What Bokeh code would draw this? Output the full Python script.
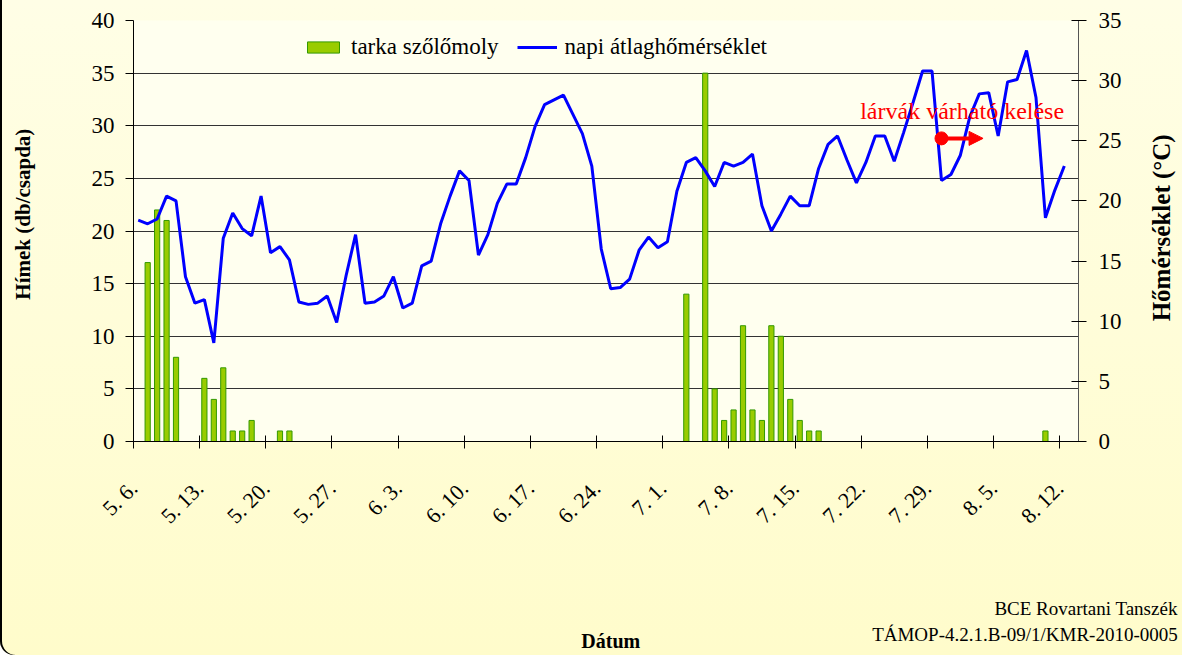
import math
from bokeh.plotting import figure
from bokeh.models import (Range1d, LinearAxis, FixedTicker, Legend, LegendItem,
                          Label, Arrow, NormalHead)
from bokeh.embed import file_html
from bokeh.resources import INLINE

FONT = "Liberation Serif"

# ---- data -----------------------------------------------------------
# day index 0 = 5. 6. (May 6) ... 98 = 8. 12.
tick_days = [0, 7, 14, 21, 28, 35, 42, 49, 56, 63, 70, 77, 84, 91, 98]
tick_labels = ["5. 6.", "5. 13.", "5. 20.", "5. 27.", "6. 3.", "6. 10.", "6. 17.",
               "6. 24.", "7. 1.", "7. 8.", "7. 15.", "7. 22.", "7. 29.", "8. 5.", "8. 12."]

# males caught per trap (tarka szőlőmoly)
trap_day = [1, 2, 3, 4, 7, 8, 9, 10, 11, 12, 15, 16,
            58, 60, 61, 62, 63, 64, 65, 66, 67, 68, 69, 70, 71, 72, 96]
trap_count = [17, 22, 21, 8, 6, 4, 7, 1, 1, 2, 1, 1,
              14, 35, 5, 2, 3, 11, 3, 2, 11, 10, 4, 2, 1, 1, 1]

# daily mean temperature (°C), one value per day from day 0
temperature = [18.4, 18.1, 18.5, 20.4, 20.0, 13.7, 11.5, 11.8, 8.2, 16.9,
               19.0, 17.7, 17.1, 20.4, 15.7, 16.2, 15.1, 11.6, 11.4, 11.5,
               12.1, 9.9, 13.8, 17.2, 11.5, 11.6, 12.1, 13.7, 11.1, 11.5,
               14.6, 15.0, 18.1, 20.4, 22.5, 21.7, 15.5, 17.2, 19.8, 21.4,
               21.4, 23.6, 26.2, 28.0, 28.4, 28.8, 27.2, 25.6, 22.9, 16.0,
               12.7, 12.8, 13.5, 15.9, 17.0, 16.1, 16.6, 20.8, 23.2, 23.6,
               22.5, 21.2, 23.2, 22.9, 23.2, 23.9, 19.6, 17.5, 18.9, 20.4,
               19.6, 19.6, 22.7, 24.7, 25.4, 23.4, 21.5, 23.2, 25.4, 25.4,
               23.3, 25.7, 28.2, 30.8, 30.8, 21.7, 22.2, 23.8, 27.0, 28.9,
               29.0, 25.4, 29.9, 30.1, 32.5, 28.6, 18.6, 20.9, 22.9]
temp_day = list(range(len(temperature)))

N_DAYS = 100
left_ticks = [0, 5, 10, 15, 20, 25, 30, 35, 40]
right_ticks = [0, 5, 10, 15, 20, 25, 30, 35]

# annotation: expected larval hatching
hatch_day = 85
hatch_level = 28.8
hatch_arrow_end = 89.4
hatch_text = "lárvák várható kelése"

# ---- figure -----------------------------------------------------------
p = figure(width=1182, height=655, output_backend="svg", toolbar_location=None,
           x_range=Range1d(-0.5, N_DAYS - 0.5), y_range=Range1d(0, 40),
           min_border_left=133, min_border_right=104, min_border_top=20,
           min_border_bottom=214)
p.extra_y_ranges = {"temp": Range1d(0, 35)}

p.background_fill_color = "#FFFFEF"
p.border_fill_color = None
p.outline_line_color = None
p.styles = {"background": "linear-gradient(to bottom, #FFFEE6, #FFFCCB)",
            "box-shadow": "inset 2px 0 0 #000000",
            "border-bottom-left-radius": "14px"}

# grid
p.xgrid.visible = False
p.ygrid.ticker = FixedTicker(ticks=left_ticks[1:])
p.ygrid.grid_line_color = "#333333"
p.ygrid.grid_line_width = 1

# left axis
ya = p.yaxis[0]
ya.ticker = FixedTicker(ticks=left_ticks)
ya.major_tick_in = 0
ya.major_tick_out = 8
ya.minor_tick_line_color = None
ya.major_label_standoff = 11
ya.major_label_text_font = FONT
ya.major_label_text_font_size = "23px"
ya.major_label_text_color = "#000000"
ya.axis_line_color = "#000000"
ya.major_tick_line_color = "#000000"

# right axis
ra = LinearAxis(y_range_name="temp", ticker=FixedTicker(ticks=right_ticks))
ra.major_tick_in = 7
ra.major_tick_out = 8
ra.minor_tick_line_color = None
ra.major_label_standoff = 12
ra.major_label_text_font = FONT
ra.major_label_text_font_size = "23px"
ra.major_label_text_color = "#000000"
ra.axis_line_color = "#555555"
ra.major_tick_line_color = "#000000"
p.add_layout(ra, "right")

# bottom axis: tick marks at week boundaries, labels placed there too
week_edges = [d - 0.5 for d in tick_days]
xa = p.xaxis[0]
xa.ticker = FixedTicker(ticks=week_edges)
xa.major_label_overrides = {e: lab for e, lab in zip(week_edges, tick_labels)}
xa.major_label_orientation = math.pi / 4
xa.major_tick_in = 6
xa.major_tick_out = 7
xa.major_tick_line_color = "#000000"
xa.minor_tick_line_color = None
xa.axis_line_color = "#000000"
xa.major_label_standoff = 36
xa.major_label_text_font = FONT
xa.major_label_text_font_size = "22px"
xa.major_label_text_color = "#000000"

# ---- data marks -----------------------------------------------------------
bars = p.vbar(x=trap_day, top=trap_count, width=0.55,
              fill_color="#99CC00", line_color="#339900", line_width=1)
temp_line = p.line(x=temp_day, y=temperature, y_range_name="temp",
                   line_color="#0000FF", line_width=3)

legend = Legend(items=[LegendItem(label="tarka szőlőmoly", renderers=[bars]),
                       LegendItem(label="napi átlaghőmérséklet", renderers=[temp_line])],
                orientation="horizontal", location=(170, 381))
legend.background_fill_alpha = 0
legend.border_line_alpha = 0
legend.padding = 0
legend.margin = 0
legend.spacing = 18
legend.glyph_width = 40
legend.glyph_height = 14
legend.label_standoff = 8
legend.label_text_font = FONT
legend.label_text_font_size = "23px"
legend.label_text_color = "#000000"
p.add_layout(legend)

# annotation
p.scatter(x=[hatch_day], y=[hatch_level], size=13, color="#FF0000")
p.add_layout(Arrow(x_start=hatch_day, y_start=hatch_level, x_end=hatch_arrow_end,
                   y_end=hatch_level, line_color="#FF0000", line_width=4,
                   end=NormalHead(size=14, fill_color="#FF0000", line_color="#FF0000")))
p.add_layout(Label(x=76.4, y=31.4, text=hatch_text, text_color="#FF0000",
                   text_font=FONT, text_font_size="24px", text_baseline="alphabetic"))

# axis titles and credits, placed in the outer panels so they are not clipped
def outer_label(side, **kw):
    base = dict(text_font=FONT, text_color="#000000", text_baseline="alphabetic")
    base.update(kw)
    p.add_layout(Label(**base), side)

outer_label("left", x=-12.2, y=21.6, text="Hímek (db/csapda)", angle=math.pi / 2,
            text_align="center", text_baseline="middle",
            text_font_style="bold", text_font_size="21px")
outer_label("right", x=108.3, y=20.3, text="Hőmérséklet (°C)", angle=math.pi / 2,
            text_align="center", text_baseline="middle",
            text_font_style="bold", text_font_size="25px")
outer_label("below", x=50.0, y=-19.0, text="Dátum", text_align="center",
            text_font_style="bold", text_font_size="20px")
outer_label("below", x=110.0, y=-15.9, text="BCE Rovartani Tanszék", text_align="right",
            text_font_size="19px")
outer_label("below", x=110.0, y=-18.3, text="TÁMOP-4.2.1.B-09/1/KMR-2010-0005",
            text_align="right", text_font_size="19px")

open("out.html", "w").write(file_html(p, INLINE))
